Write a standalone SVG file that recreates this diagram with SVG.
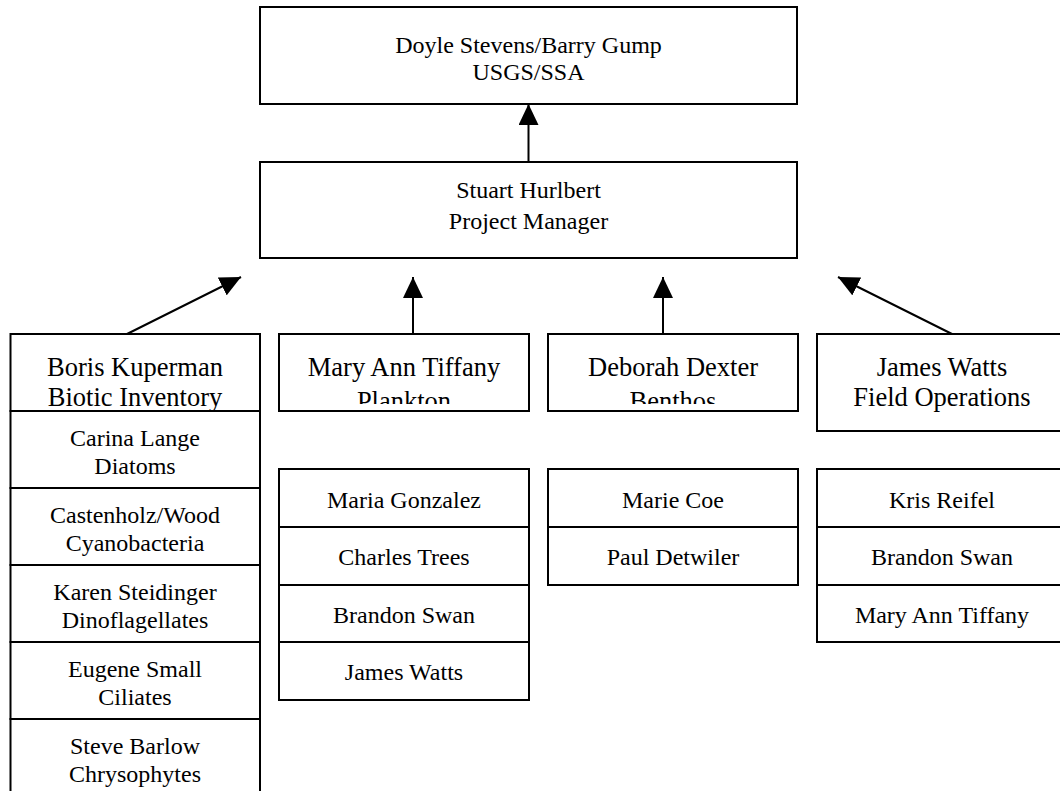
<svg xmlns="http://www.w3.org/2000/svg" width="1060" height="791" viewBox="0 0 1060 791">
<style>
.box{fill:#fff;stroke:#000;stroke-width:2}
.t{font-family:"Liberation Serif","Times New Roman",serif;font-size:24px;fill:#000;text-anchor:middle}
.h{font-family:"Liberation Serif","Times New Roman",serif;font-size:26.5px;fill:#000;text-anchor:middle}
.s{font-family:"Liberation Serif","Times New Roman",serif;font-size:24px;fill:#000;text-anchor:middle}
.c{stroke:#000;stroke-width:2;fill:none;marker-end:url(#ah)}
</style>
<defs>
<marker id="ah" viewBox="0 0 21 20" refX="21" refY="10" markerWidth="21" markerHeight="20" markerUnits="userSpaceOnUse" orient="auto">
<path d="M0,0 L21,10 L0,20 z" fill="#000"/>
</marker>
<clipPath id="clipMary"><rect x="279" y="334" width="250" height="70"/></clipPath>
<clipPath id="clipDeb"><rect x="548" y="334" width="250" height="70"/></clipPath>
</defs>
<rect width="1060" height="791" fill="#fff"/>

<g id="connectors">
<line class="c" x1="528.5" y1="162" x2="528.5" y2="104"/>
<line class="c" x1="127" y1="334" x2="241" y2="277"/>
<line class="c" x1="413" y1="334" x2="413" y2="277"/>
<line class="c" x1="663" y1="334" x2="663" y2="277"/>
<line class="c" x1="952" y1="334" x2="838" y2="277"/>
</g>

<g id="usgs">
<rect class="box" x="260" y="7" width="537" height="97"/>
<text class="t" x="528.5" y="53">Doyle Stevens/Barry Gump</text>
<text class="t" x="528.5" y="80">USGS/SSA</text>
</g>

<g id="hurlbert">
<rect class="box" x="260" y="162" width="537" height="96"/>
<text class="t" x="528.5" y="198">Stuart Hurlbert</text>
<text class="t" x="528.5" y="229">Project Manager</text>
</g>

<g id="kuperman">
<rect class="box" x="10.5" y="334" width="249.5" height="77"/>
<text class="h" x="135" y="376">Boris Kuperman</text>
<text class="h" x="135" y="406">Biotic Inventory</text>
</g>

<g id="tiffany">
<rect class="box" x="279" y="334" width="250" height="77"/>
<g clip-path="url(#clipMary)">
<text class="h" x="404" y="376">Mary Ann Tiffany</text>
<text class="h" x="404" y="410">Plankton</text>
</g>
</g>

<g id="dexter">
<rect class="box" x="548" y="334" width="250" height="77"/>
<g clip-path="url(#clipDeb)">
<text class="h" x="673" y="376">Deborah Dexter</text>
<text class="h" x="673" y="410">Benthos</text>
</g>
</g>

<g id="watts">
<rect class="box" x="817" y="334" width="250" height="97"/>
<text class="h" x="942" y="376">James Watts</text>
<text class="h" x="942" y="406">Field Operations</text>
</g>

<g id="kuperman-team">
<rect class="box" x="10.5" y="411" width="249.5" height="77"/>
<text class="s" x="135" y="446">Carina Lange</text>
<text class="s" x="135" y="474">Diatoms</text>
<rect class="box" x="10.5" y="488" width="249.5" height="77"/>
<text class="s" x="135" y="523">Castenholz/Wood</text>
<text class="s" x="135" y="551">Cyanobacteria</text>
<rect class="box" x="10.5" y="565" width="249.5" height="77"/>
<text class="s" x="135" y="600">Karen Steidinger</text>
<text class="s" x="135" y="628">Dinoflagellates</text>
<rect class="box" x="10.5" y="642" width="249.5" height="77"/>
<text class="s" x="135" y="677">Eugene Small</text>
<text class="s" x="135" y="705">Ciliates</text>
<rect class="box" x="10.5" y="719" width="249.5" height="80"/>
<text class="s" x="135" y="754">Steve Barlow</text>
<text class="s" x="135" y="782">Chrysophytes</text>
</g>

<g id="tiffany-team">
<rect class="box" x="279" y="469" width="250" height="58"/>
<text class="s" x="404" y="508">Maria Gonzalez</text>
<rect class="box" x="279" y="527" width="250" height="58"/>
<text class="s" x="404" y="565">Charles Trees</text>
<rect class="box" x="279" y="585" width="250" height="57"/>
<text class="s" x="404" y="623">Brandon Swan</text>
<rect class="box" x="279" y="642" width="250" height="58"/>
<text class="s" x="404" y="680">James Watts</text>
</g>

<g id="dexter-team">
<rect class="box" x="548" y="469" width="250" height="58"/>
<text class="s" x="673" y="508">Marie Coe</text>
<rect class="box" x="548" y="527" width="250" height="58"/>
<text class="s" x="673" y="565">Paul Detwiler</text>
</g>

<g id="watts-team">
<rect class="box" x="817" y="469" width="250" height="58"/>
<text class="s" x="942" y="508">Kris Reifel</text>
<rect class="box" x="817" y="527" width="250" height="58"/>
<text class="s" x="942" y="565">Brandon Swan</text>
<rect class="box" x="817" y="585" width="250" height="57"/>
<text class="s" x="942" y="623">Mary Ann Tiffany</text>
</g>
</svg>
